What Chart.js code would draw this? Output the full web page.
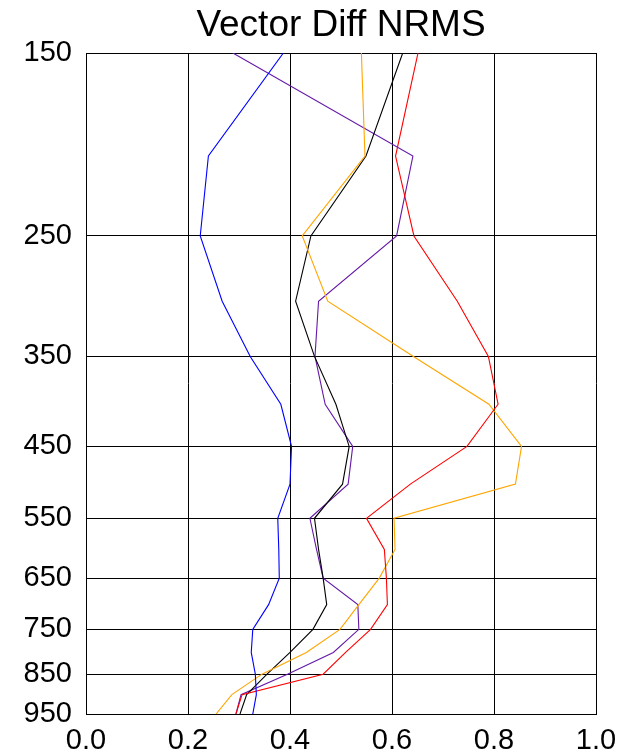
<!DOCTYPE html>
<html>
<head>
<meta charset="utf-8">
<script src="https://cdn.jsdelivr.net/npm/chart.js@4/dist/chart.umd.min.js"></script>
<style>
  html, body { margin: 0; padding: 0; background: #fff; }
  #wrap { width: 631px; height: 756px; }
</style>
</head>
<body>
<div id="wrap"><canvas id="myChart"></canvas></div>
<script>
// pressure levels (hPa) and tick labels
var levels = [150, 200, 250, 300, 350, 400, 450, 500, 550, 600, 650, 700, 750, 800, 850, 900, 950];
var yTicks = [150, 250, 350, 450, 550, 650, 750, 850, 950];

// NRMS per level
var blueVals   = [0.387, 0.240, 0.224, 0.267, 0.322, 0.382, 0.403, 0.400, 0.376, 0.378, 0.379, 0.358, 0.327, 0.324, 0.332, 0.334, 0.327];
var redVals    = [0.651, 0.607, 0.643, 0.728, 0.789, 0.808, 0.747, 0.636, 0.550, 0.585, 0.589, 0.591, 0.558, 0.509, 0.465, 0.306, 0.294];
var orangeVals = [0.540, 0.547, 0.424, 0.474, 0.642, 0.790, 0.854, 0.842, 0.604, 0.606, 0.575, 0.535, 0.498, 0.432, 0.345, 0.286, 0.255];
var blackVals  = [0.621, 0.549, 0.441, 0.411, 0.448, 0.490, 0.516, 0.503, 0.448, 0.456, 0.465, 0.472, 0.445, 0.400, 0.355, 0.315, 0.302];
var purpleVals = [0.288, 0.641, 0.609, 0.456, 0.449, 0.469, 0.523, 0.514, 0.439, 0.452, 0.465, 0.533, 0.535, 0.485, 0.395, 0.304, 0.294];

function profile(vals) {
  return vals.map(function (v, i) { return { x: v, y: levels[i] }; });
}

function line(vals, color) {
  return {
    data: profile(vals),
    borderColor: color,
    borderWidth: 1.1,
    pointRadius: 0,
    showLine: true,
    tension: 0,
    fill: false
  };
}

var font = 'Liberation Sans, Arial, Helvetica, sans-serif';

var ctx = document.getElementById('myChart');
var myChart = new Chart(ctx, {
  type: 'scatter',
  data: {
    datasets: [
      line(blueVals, '#0000ff'),
      line(redVals, '#ff0000'),
      line(orangeVals, '#ffa500'),
      line(blackVals, '#000000'),
      line(purpleVals, '#6418a8')
    ]
  },
  options: {
    responsive: true,
    maintainAspectRatio: false,
    animation: false,
    layout: { padding: { right: 35 } },
    plugins: {
      legend: { display: false },
      tooltip: { enabled: false },
      title: {
        display: true,
        fullSize: false,
        text: 'Vector Diff NRMS',
        color: '#000',
        font: { family: font, size: 37, weight: 'normal', lineHeight: 1.2 },
        padding: { top: 4, bottom: 4.6 }
      }
    },
    scales: {
      x: {
        type: 'linear',
        min: 0,
        max: 1,
        ticks: {
          stepSize: 0.2,
          color: '#000',
          padding: 10,
          maxRotation: 0,
          font: { family: font, size: 29 },
          callback: function (v) { return v.toFixed(1); }
        },
        grid: { color: '#000', lineWidth: 1, drawTicks: false },
        border: { color: '#000', width: 1 },
        afterFit: function (s) { s.height = 42; }
      },
      y: {
        type: 'logarithmic',
        reverse: true,
        min: 150,
        max: 950,
        afterBuildTicks: function (s) {
          s.ticks = yTicks.map(function (v) { return { value: v }; });
        },
        ticks: {
          color: '#000',
          padding: 14,
          font: { family: font, size: 29 },
          callback: function (v) { return String(v); }
        },
        grid: { color: '#000', lineWidth: 1, drawTicks: false },
        border: { color: '#000', width: 1 },
        afterFit: function (s) { s.width = 86; }
      }
    }
  }
});
</script>
</body>
</html>
